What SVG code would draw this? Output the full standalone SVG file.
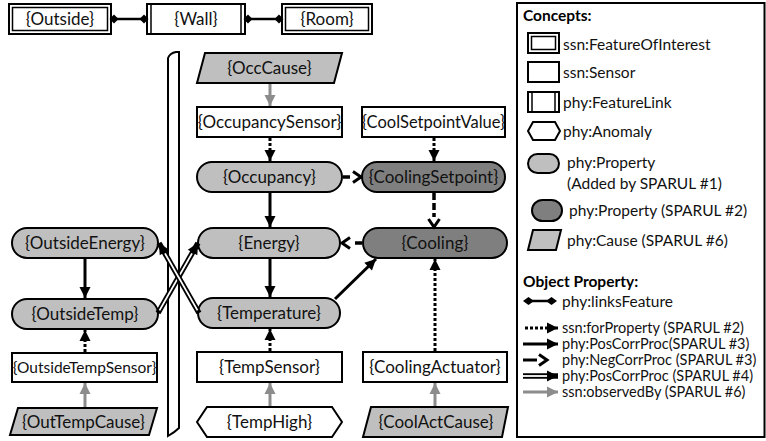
<svg xmlns="http://www.w3.org/2000/svg" width="766" height="441" viewBox="0 0 766 441">
<style>
.t{font-family:Lato,"Liberation Sans",Arial,sans-serif;font-size:17px;fill:#111;text-anchor:middle}
.ts{font-size:15.5px}
.tm{font-size:16.5px}
.lt{font-family:Lato,"Liberation Sans",Arial,sans-serif;font-size:15.5px;fill:#111}
.ls{font-size:14.5px}
.hd{font-family:Lato,"Liberation Sans",Arial,sans-serif;font-size:15.5px;font-weight:bold;fill:#000}
.n{stroke:#000;stroke-width:2}
.in{fill:none;stroke:#000;stroke-width:1.5}
.w{fill:#fff}.lg{fill:#bfbfbf}.dg{fill:#7f7f7f}
.solid{stroke:#000;stroke-width:3;fill:none}
.dot{stroke:#000;stroke-width:3;stroke-dasharray:3 2;fill:none}
.dash{stroke:#000;stroke-width:3.5;stroke-dasharray:7 3;fill:none}
.gray{stroke:#8c8c8c;stroke-width:3;fill:none}
.dbl{stroke:#000;stroke-width:5.5;fill:none}
.dbli{stroke:#fff;stroke-width:1.8;fill:none}
.link{stroke:#000;stroke-width:2.5;fill:none}
</style>
<defs>
<marker id="tri" markerUnits="userSpaceOnUse" markerWidth="12" markerHeight="12" refX="11" refY="5.5" orient="auto" overflow="visible"><path d="M0,0 L11,5.5 L0,11 z" fill="#000"/></marker>
<marker id="trig" markerUnits="userSpaceOnUse" markerWidth="12" markerHeight="12" refX="11" refY="5.5" orient="auto" overflow="visible"><path d="M0,0 L11,5.5 L0,11 z" fill="#8c8c8c"/></marker>
<marker id="chev" markerUnits="userSpaceOnUse" markerWidth="14" markerHeight="14" refX="0" refY="7" orient="auto" overflow="visible"><path d="M2,1.5 L10,7 L2,12.5" fill="none" stroke="#000" stroke-width="3"/></marker>
<marker id="dia" markerUnits="userSpaceOnUse" markerWidth="10" markerHeight="10" refX="4.5" refY="4.5" orient="auto" overflow="visible"><path d="M0,4.5 L4.5,0 L9,4.5 L4.5,9 z" fill="#000"/></marker>
</defs>

<g id="wallbar">
<path d="M168,436 L168,58 Q170,53 176,52 L179,52 L179,428 Q175,432 168,436 Z" fill="#fff" stroke="#000" stroke-width="2"/>
</g>

<g id="outside"><rect class="n w" x="9" y="4" width="102" height="30"/><rect class="in" x="12.5" y="7.5" width="95" height="23"/><text class="t" x="60" y="25">{Outside}</text></g>
<g id="wall"><rect class="n w" x="147" y="4" width="98" height="30"/><line class="in" x1="151" y1="4" x2="151" y2="34"/><line class="in" x1="241" y1="4" x2="241" y2="34"/><text class="t" x="196" y="25">{Wall}</text></g>
<g id="room"><rect class="n w" x="282" y="4" width="90" height="30"/><rect class="in" x="285.5" y="7.5" width="83" height="23"/><text class="t" x="327" y="25">{Room}</text></g>

<g id="occcause"><polygon class="n lg" points="205,53 342,53 334,83 197,83"/><text class="t" x="269.5" y="74">{OccCause}</text></g>
<g id="occsensor"><rect class="n w" x="197" y="107" width="145" height="30"/><text class="t" x="269.5" y="128">{OccupancySensor}</text></g>
<g id="coolsetval"><rect class="n w" x="362" y="107" width="143" height="30"/><text class="t tm" x="433.5" y="128">{CoolSetpointValue}</text></g>
<g id="occupancy"><rect class="n lg" x="197" y="162" width="145" height="30" rx="15"/><text class="t" x="269.5" y="183">{Occupancy}</text></g>
<g id="coolingsetpoint"><rect class="n dg" x="362" y="162" width="143" height="30" rx="15"/><text class="t" x="433.5" y="183">{CoolingSetpoint}</text></g>
<g id="outsideenergy"><rect class="n lg" x="12" y="228" width="146" height="30" rx="15"/><text class="t" x="85" y="249">{OutsideEnergy}</text></g>
<g id="energy"><rect class="n lg" x="198" y="228" width="142" height="30" rx="15"/><text class="t" x="269" y="249">{Energy}</text></g>
<g id="cooling"><rect class="n dg" x="363" y="228" width="144" height="30" rx="15"/><text class="t" x="435" y="249">{Cooling}</text></g>
<g id="outsidetemp"><rect class="n lg" x="12" y="299" width="146" height="30" rx="15"/><text class="t" x="85" y="320">{OutsideTemp}</text></g>
<g id="temperature"><rect class="n lg" x="198" y="298" width="142" height="30" rx="15"/><text class="t" x="269" y="319">{Temperature}</text></g>
<g id="outsidetempsensor"><rect class="n w" x="12" y="353" width="145" height="29"/><text class="t ts" x="84.5" y="373">{OutsideTempSensor}</text></g>
<g id="tempsensor"><rect class="n w" x="197" y="352" width="145" height="30"/><text class="t" x="269.5" y="373">{TempSensor}</text></g>
<g id="coolingactuator"><rect class="n w" x="363" y="352" width="144" height="30"/><text class="t" x="435" y="373">{CoolingActuator}</text></g>
<g id="outtempcause"><polygon class="n lg" points="18,408 157,408 149,435 10,435"/><text class="t" x="83.5" y="427.5">{OutTempCause}</text></g>
<g id="temphigh"><polygon class="n w" points="207,407 332,407 342,422 332,437 207,437 197,422"/><text class="t" x="269.5" y="428">{TempHigh}</text></g>
<g id="coolactcause"><polygon class="n lg" points="371,407 508,407 502,437 363,437"/><text class="t" x="436" y="428">{CoolActCause}</text></g>

<g id="connectors">
<line class="link" x1="114" y1="19" x2="144" y2="19" marker-start="url(#dia)" marker-end="url(#dia)"/>
<line class="link" x1="248" y1="19" x2="279" y2="19" marker-start="url(#dia)" marker-end="url(#dia)"/>
<line class="gray" x1="270" y1="84" x2="270" y2="106" marker-end="url(#trig)"/>
<line class="dot" x1="270" y1="138" x2="270" y2="161" marker-end="url(#tri)"/>
<line class="dot" x1="434" y1="138" x2="434" y2="161" marker-end="url(#tri)"/>
<line class="dash" x1="343" y1="177" x2="351" y2="177" marker-end="url(#chev)"/>
<line class="solid" x1="270" y1="193" x2="270" y2="227" marker-end="url(#tri)"/>
<line class="dash" x1="434" y1="193" x2="434" y2="217" marker-end="url(#chev)"/>
<line class="dash" x1="362" y1="243" x2="352" y2="243" marker-end="url(#chev)"/>
<line class="solid" x1="270" y1="259" x2="270" y2="297" marker-end="url(#tri)"/>
<line class="solid" x1="335" y1="299" x2="376" y2="259" marker-end="url(#tri)"/>
<line class="dot" x1="270" y1="351" x2="270" y2="329" marker-end="url(#tri)"/>
<line class="gray" x1="270" y1="406" x2="270" y2="383" marker-end="url(#trig)"/>
<line class="dot" x1="435" y1="351" x2="435" y2="259" marker-end="url(#tri)"/>
<line class="gray" x1="435" y1="406" x2="435" y2="383" marker-end="url(#trig)"/>
<line class="solid" x1="85" y1="259" x2="85" y2="298" marker-end="url(#tri)"/>
<line class="dot" x1="85" y1="352" x2="85" y2="330" marker-end="url(#tri)"/>
<line class="gray" x1="85" y1="407" x2="85" y2="383" marker-end="url(#trig)"/>
<line class="dbl" x1="158" y1="313" x2="198" y2="243" marker-end="url(#tri)"/>
<line class="dbli" x1="159.5" y1="310.4" x2="192" y2="253.4"/>
<line class="dbl" x1="199" y1="313" x2="159" y2="243" marker-end="url(#tri)"/>
<line class="dbli" x1="197.5" y1="310.4" x2="165" y2="253.4"/>
</g>

<g id="legend">
<rect x="517" y="3" width="247.5" height="434" fill="#fff" stroke="#000" stroke-width="2"/>
<text class="hd" x="523" y="21">Concepts:</text>
<rect class="n w" x="528" y="33" width="31" height="20" stroke-width="2.5"/><rect class="in" x="531.5" y="36.5" width="24" height="13"/>
<text class="lt" x="563" y="50">ssn:FeatureOfInterest</text>
<rect class="n w" x="528" y="62" width="31" height="20"/>
<text class="lt" x="563" y="78">ssn:Sensor</text>
<rect class="n w" x="528" y="92" width="31" height="20"/><line class="in" x1="532" y1="92" x2="532" y2="112"/><line class="in" x1="555" y1="92" x2="555" y2="112"/>
<text class="lt" x="563" y="108">phy:FeatureLink</text>
<polygon class="n w" points="533,122 555,122 560,131 555,140 533,140 528,131"/>
<text class="lt" x="563" y="137">phy:Anomaly</text>
<rect class="n lg" x="528" y="154" width="31" height="19" rx="9.5"/>
<text class="lt" x="567" y="168">phy:Property</text>
<text class="lt" x="567" y="189">(Added by SPARUL #1)</text>
<rect class="n dg" x="532" y="200" width="30" height="21" rx="10.5"/>
<text class="lt" x="569" y="216">phy:Property (SPARUL  #2)</text>
<polygon class="n lg" points="533,230 561,230 556,250 528,250"/>
<text class="lt" x="567" y="246">phy:Cause (SPARUL #6)</text>
<text class="hd" x="523" y="287">Object Property:</text>
<line class="link" x1="530" y1="301" x2="550" y2="301" stroke-width="3"/>
<polygon points="523,301 528.5,297 534,301 528.5,305" fill="#000"/>
<polygon points="546,301 551.5,297 557,301 551.5,305" fill="#000"/>
<text class="lt" x="562" y="307">phy:linksFeature</text>
<line class="dot" x1="525" y1="328" x2="558" y2="328" marker-end="url(#tri)"/>
<text class="lt ls" x="562" y="333">ssn:forProperty (SPARUL  #2)</text>
<line class="solid" x1="523" y1="344" x2="558" y2="344" marker-end="url(#tri)"/>
<text class="lt ls" x="562" y="349">phy:PosCorrProc(SPARUL  #3)</text>
<line class="solid" x1="523" y1="360" x2="537" y2="360" stroke-width="3.5" marker-end="url(#chev)"/>
<text class="lt ls" x="562" y="365">phy:NegCorrProc (SPARUL  #3)</text>
<line class="dbl" x1="523" y1="376" x2="558" y2="376" marker-end="url(#tri)"/>
<line class="dbli" x1="523" y1="376" x2="547" y2="376"/>
<text class="lt ls" x="562" y="381">phy:PosCorrProc (SPARUL  #4)</text>
<line class="gray" x1="523" y1="392" x2="558" y2="392" marker-end="url(#trig)"/>
<text class="lt ls" x="562" y="397">ssn:observedBy (SPARUL #6)</text>
</g>
</svg>
